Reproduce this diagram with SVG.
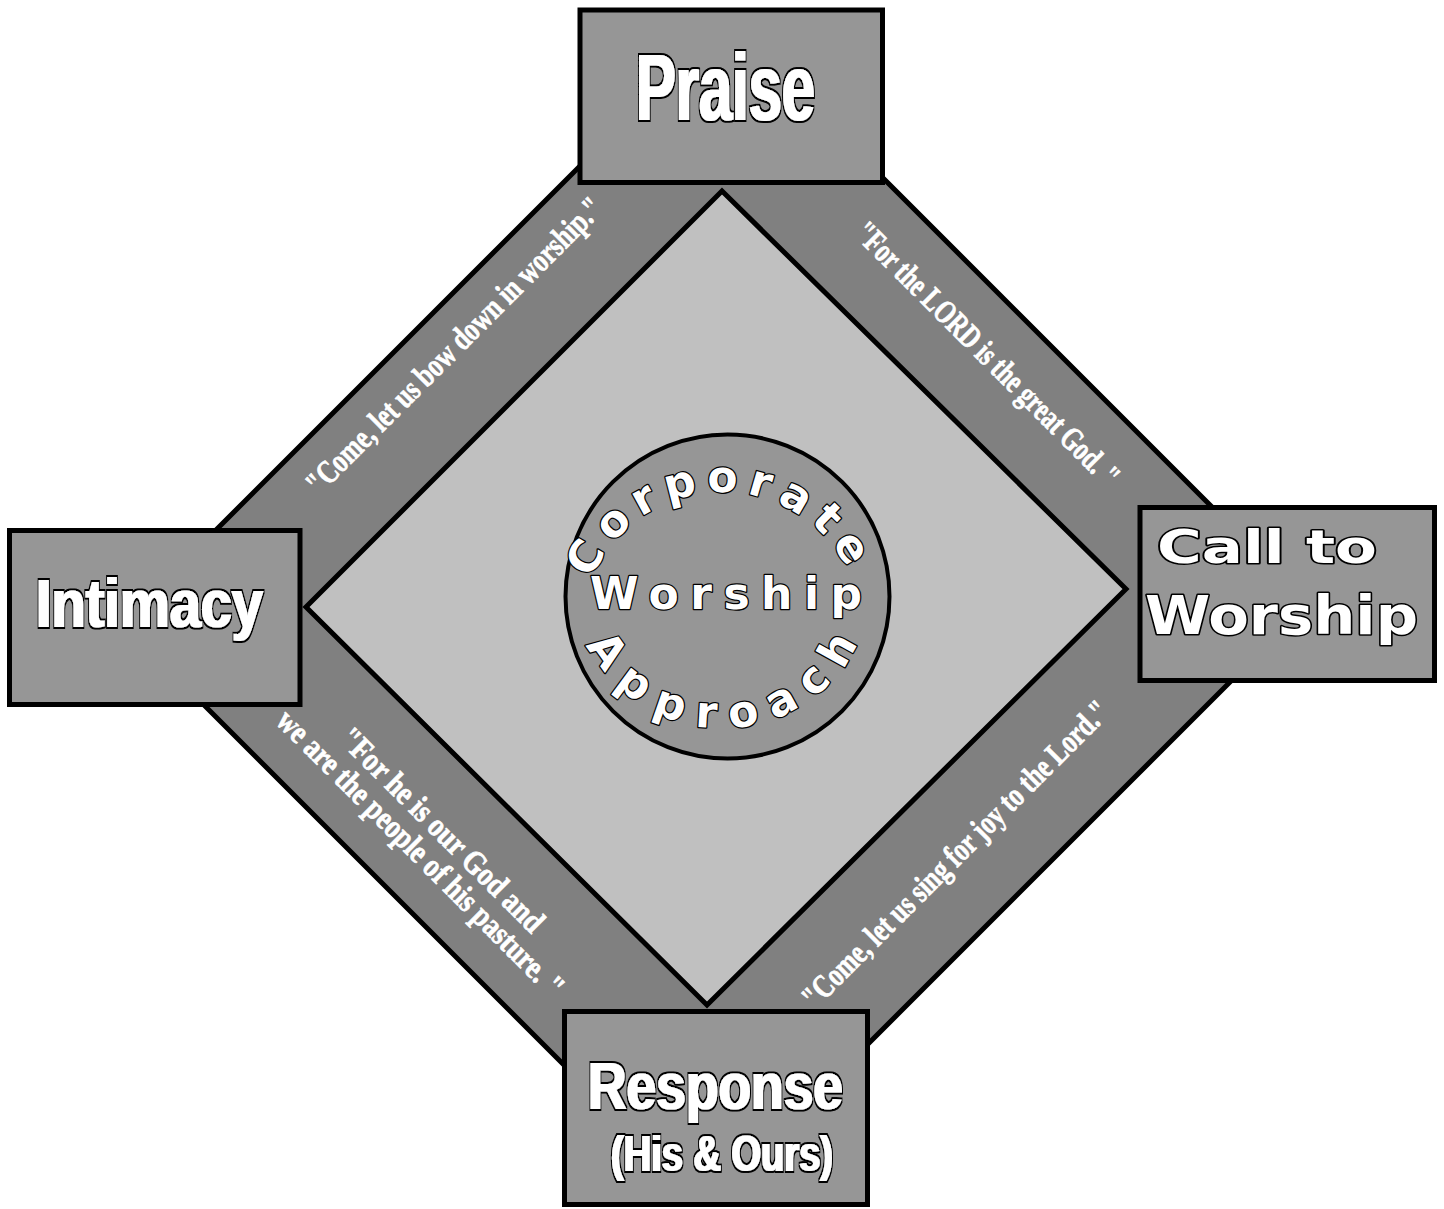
<svg xmlns="http://www.w3.org/2000/svg" width="1444" height="1209" viewBox="0 0 1444 1209">
<style>
.box{fill:#969696;stroke:#000;stroke-width:5}
.lbl{font-family:"Liberation Sans",Arial,sans-serif;font-weight:bold;fill:#fff;font-variant-ligatures:none;filter:url(#heavy)}
.wide{font-family:"DejaVu Sans",Verdana,sans-serif;font-weight:bold;fill:#fff;stroke:#000;stroke-width:3;paint-order:stroke;stroke-linejoin:round}
.ring{font-family:"DejaVu Sans",Verdana,sans-serif;font-weight:bold;font-size:44px;fill:#fff;stroke:#000;stroke-width:2.5;paint-order:stroke;stroke-linejoin:round}
.quote{font-family:"Liberation Serif","Times New Roman",serif;font-weight:bold;font-size:33px;fill:#fff;stroke:#fff;stroke-width:0.7}
</style>
<defs>
<filter id="heavy" x="-10%" y="-20%" width="120%" height="140%">
<feMorphology in="SourceAlpha" operator="dilate" radius="0.8 0.3" result="w"/>
<feMorphology in="SourceAlpha" operator="dilate" radius="2.4 1.9" result="b"/>
<feFlood flood-color="#000"/>
<feComposite in2="b" operator="in" result="bk"/>
<feFlood flood-color="#fff"/>
<feComposite in2="w" operator="in" result="wh"/>
<feMerge><feMergeNode in="bk"/><feMergeNode in="wh"/></feMerge>
</filter>
<path id="arcTop" d="M 589.5 584.8 A 141 141 0 0 1 854.5 584.8"/>
<path id="arcBot" d="M 576.1 616.1 A 151 151 0 0 0 867.9 616.1"/>
</defs>
<rect width="1444" height="1209" fill="#fff"/>
<g id="connectors">
<polygon id="band" points="646,100 805,100 1308.5,603.5 812,1100 599,1100 122.5,623.5" fill="#808080" stroke="#000" stroke-width="5" stroke-linejoin="miter"/>
<polygon id="inner" points="722,191 1126,589 707,1005 306,607" fill="#c0c0c0" stroke="#000" stroke-width="5"/>
<text class="quote" transform="translate(318.5,496.5) rotate(-45)" textLength="405" lengthAdjust="spacingAndGlyphs">"Come, let us bow down in worship."</text>
<text class="quote" transform="translate(852.5,234.5) rotate(45)" textLength="360" lengthAdjust="spacingAndGlyphs">"For the LORD is the great God. "</text>
<text class="quote" transform="translate(814.5,1010.5) rotate(-45)" textLength="420" lengthAdjust="spacingAndGlyphs">"Come, let us sing for joy to the Lord."</text>
<text class="quote" transform="translate(337.3,740.3) rotate(45)" textLength="275" lengthAdjust="spacingAndGlyphs">"For he is our God and</text>
<text class="quote" transform="translate(274.5,722.5) rotate(45)" textLength="392" lengthAdjust="spacingAndGlyphs">we are the people of his pasture. "</text>
</g>
<g id="node-center">
<circle cx="727.5" cy="596.5" r="162" fill="#969696" stroke="#000" stroke-width="4"/>
<text class="ring" letter-spacing="9"><textPath href="#arcTop" startOffset="5.5">Corporate</textPath></text>
<text class="ring" x="590" y="609" textLength="272">Worship</text>
<text class="ring" letter-spacing="14.3"><textPath href="#arcBot" startOffset="30.4">Approach</textPath></text>
</g>
<g id="node-praise">
<rect class="box" x="580" y="10" width="302.5" height="172.5"/>
<text class="lbl" x="636" y="120" font-size="95" textLength="179" lengthAdjust="spacingAndGlyphs">Praise</text>
</g>
<g id="node-intimacy">
<rect class="box" x="9.5" y="530.5" width="290.5" height="174"/>
<text class="lbl" x="36" y="627" font-size="69" textLength="227" lengthAdjust="spacingAndGlyphs">Intimacy</text>
</g>
<g id="node-call">
<rect class="box" x="1140" y="507.5" width="294.5" height="173"/>
<text class="wide" x="1157" y="563" font-size="46" textLength="220" lengthAdjust="spacingAndGlyphs">Call to</text>
<text class="wide" x="1145" y="634" font-size="54" textLength="273" lengthAdjust="spacingAndGlyphs">Worship</text>
</g>
<g id="node-response">
<rect class="box" x="564.5" y="1011.5" width="303" height="193"/>
<text class="lbl" x="588" y="1109" font-size="67" textLength="255" lengthAdjust="spacingAndGlyphs">Response</text>
<text class="lbl" x="611" y="1171" font-size="50" textLength="222" lengthAdjust="spacingAndGlyphs">(His &amp; Ours)</text>
</g>
</svg>
